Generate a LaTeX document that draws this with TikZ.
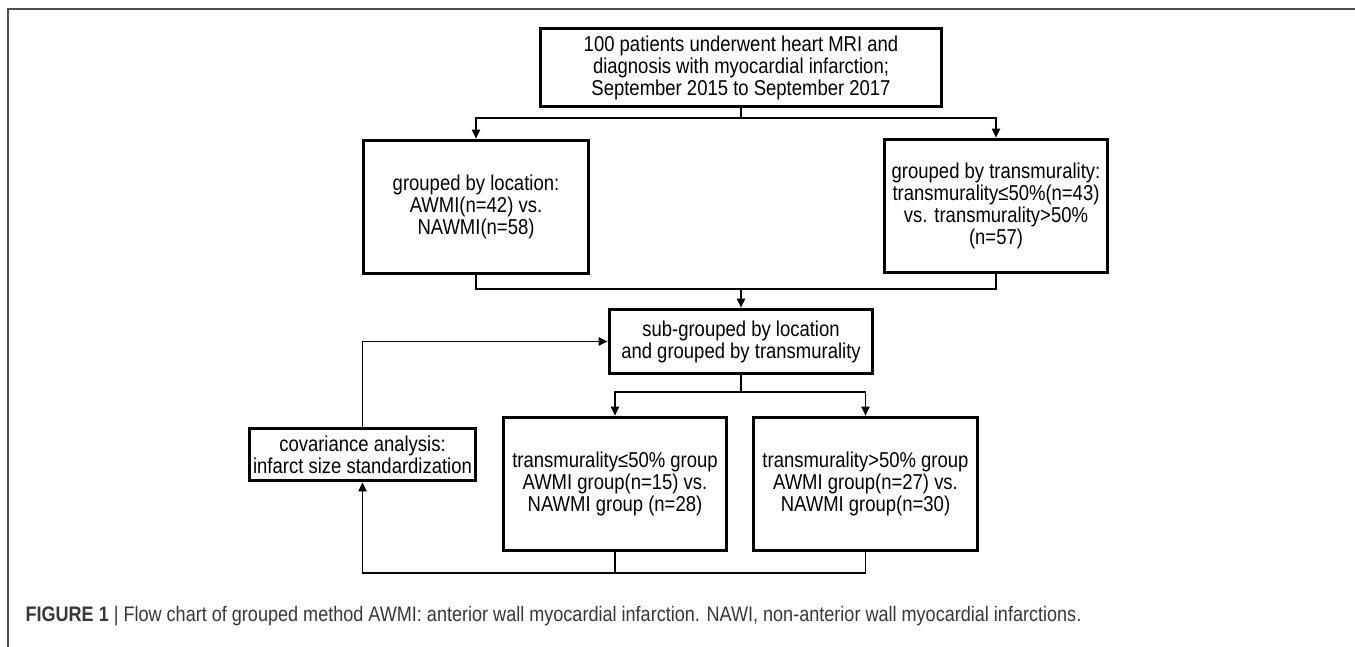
\documentclass[tikz,border=0pt]{standalone}
\usepackage{fontspec}
\setmainfont[FakeStretch=0.86]{Liberation Sans}
\usetikzlibrary{arrows.meta,positioning,calc}
\definecolor{framegray}{RGB}{80,80,80}
\definecolor{captext}{RGB}{55,55,55}

\begin{document}
\begin{tikzpicture}[x=1pt, y=-1pt, every node/.style={font=\fontsize{21.5}{22}\selectfont}]
  \tikzset{
    box/.style={draw, line width=3.6pt, align=center, inner sep=0pt},
    line/.style={line width=1.8pt},
    link/.style={line, -{Triangle[length=9pt,width=8pt]}}
  }
  \useasboundingbox (0,0) rectangle (1355,647);
  \draw[framegray, line width=1.8pt] (8,647) -- (8,9) -- (1355,9);

  \node[box, minimum width=401pt, minimum height=78pt] (top) at (741,67.5)
    {100 patients underwent heart MRI and\\diagnosis with myocardial infarction;\\September 2015 to September 2017};
  \node[box, minimum width=225pt, minimum height=133pt] (loc) at (476,207)
    {grouped by location:\\AWMI(n=42) vs.\\NAWMI(n=58)};
  \node[box, minimum width=223pt, minimum height=133pt] (trans) at (996,206)
    {grouped by transmurality:\\transmurality≤50\%(n=43)\\vs. transmurality>50\%\\(n=57)};
  \node[box, minimum width=263pt, minimum height=64pt] (sub) at (741,341.5)
    {sub-grouped by location\\and grouped by transmurality};
  \node[box, minimum width=226pt, minimum height=52pt] (cov) at (362.5,454.5)
    {covariance analysis:\\infarct size standardization};
  \node[box, minimum width=223pt, minimum height=133pt] (lowL) at (615,484)
    {transmurality≤50\% group\\AWMI group(n=15) vs.\\NAWMI group (n=28)};
  \node[box, minimum width=224pt, minimum height=133pt] (lowR) at (865.5,484)
    {transmurality>50\% group\\AWMI group(n=27) vs.\\NAWMI group(n=30)};

  % top split
  \draw[link] (top.south) -- ++(0,10) coordinate (fork1) -| (loc.north);
  \draw[link] (fork1) -| (trans.north);
  % merge into sub-grouping
  \draw[line] (loc.south) -- ++(0,14) coordinate (join1) -| (trans.south);
  \draw[link] (join1 -| sub.north) -- (sub.north);
  % second split
  \draw[link] (sub.south) -- ++(0,17) coordinate (fork2) -| (lowL.north);
  \draw[link] (fork2) -| (lowR.north);
  % back to covariance analysis
  \draw[line] (lowL.south) -- ++(0,21) coordinate (join2) -| (lowR.south);
  \draw[link] (join2) -| (cov.south);
  \draw[link] (cov.north) |- (sub.west);

  \node[anchor=base west, text=captext, font=\fontsize{21}{22}\selectfont] (cap) at (22,621)
    {\textbf{FIGURE 1} | Flow chart of grouped method AWMI: anterior wall myocardial infarction. NAWI, non-anterior wall myocardial infarctions.};
\end{tikzpicture}
\end{document}
